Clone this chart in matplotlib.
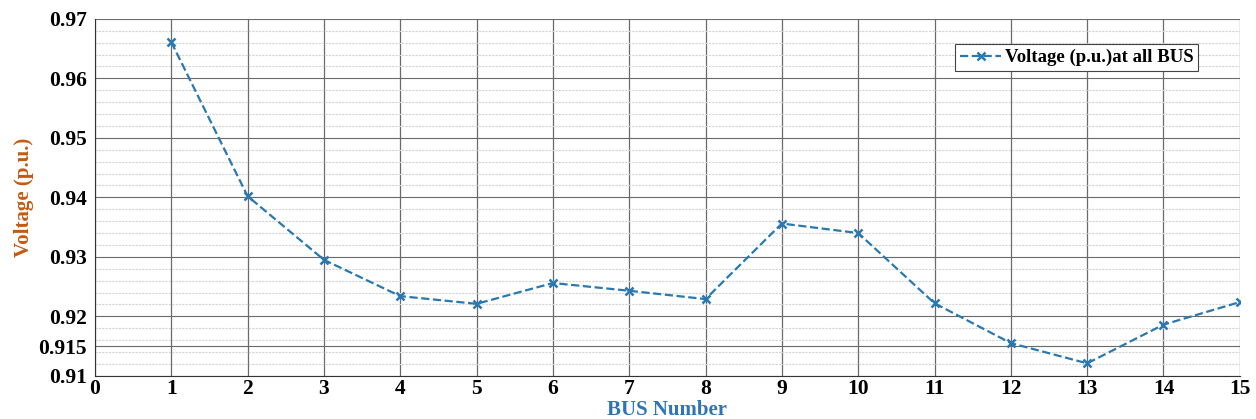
import numpy as np
import matplotlib.pyplot as plt
from matplotlib.ticker import MultipleLocator

# bus voltages
bus = [1, 2, 3, 4, 5, 6, 7, 8, 9, 10, 11, 12, 13, 14, 15]
voltage = [0.9661, 0.9402, 0.9295, 0.9234, 0.9221, 0.9256, 0.9243, 0.9229,
           0.9356, 0.9340, 0.9222, 0.9155, 0.9121, 0.9186, 0.9224]
yticks = [0.91, 0.915, 0.92, 0.93, 0.94, 0.95, 0.96, 0.97]
ytick_labels = ['0.91', '0.915', '0.92', '0.93', '0.94', '0.95', '0.96', '0.97']

plt.rcParams['font.family'] = ['Liberation Serif', 'DejaVu Serif']
plt.rcParams['font.weight'] = 'bold'

fig = plt.figure(figsize=(12.56, 4.19), dpi=100)
ax = fig.add_axes([0.0756, 0.103, 0.9115, 0.852])

line_color = '#2a78b0'
ax.plot(bus, voltage, linestyle='--', color=line_color, linewidth=1.6,
        marker='x', markersize=6, markeredgewidth=1.8,
        label='Voltage (p.u.)at all BUS')

ax.set_xlim(0, 15)
ax.set_ylim(0.91, 0.97)
ax.set_xticks(range(0, 16))
ax.set_yticks(yticks)
ax.set_yticklabels(ytick_labels)
ax.yaxis.set_minor_locator(MultipleLocator(0.002))
ax.tick_params(axis='both', which='both', length=0, labelsize=15.5)
ax.tick_params(axis='x', pad=2)
ax.tick_params(axis='y', pad=6)

ax.grid(True, axis='x', color='#6a6a6a', linewidth=0.9)
ax.grid(True, axis='y', which='major', color='#6a6a6a', linewidth=0.8)
ax.grid(True, axis='y', which='minor', color='#d4d4d4', linewidth=0.8, linestyle=(0, (2, 1)))
ax.set_axisbelow(True)

for side in ['top', 'right']:
    ax.spines[side].set_visible(False)
for side in ['left', 'bottom']:
    ax.spines[side].set_color('#333333')

ax.set_xlabel('BUS Number', color='#2e75b6', fontsize=15, fontweight='bold', labelpad=1)
ax.set_ylabel('Voltage (p.u.)', color='#c55a11', fontsize=15, fontweight='bold', labelpad=3)

leg = ax.legend(loc='upper right', bbox_to_anchor=(0.972, 0.955), fontsize=13.5,
                fancybox=False, framealpha=1, edgecolor='#444444',
                handlelength=2.2, handletextpad=0.2, borderpad=0.25)
leg.get_frame().set_linewidth(0.8)

fig.savefig('out.png', dpi=100)
